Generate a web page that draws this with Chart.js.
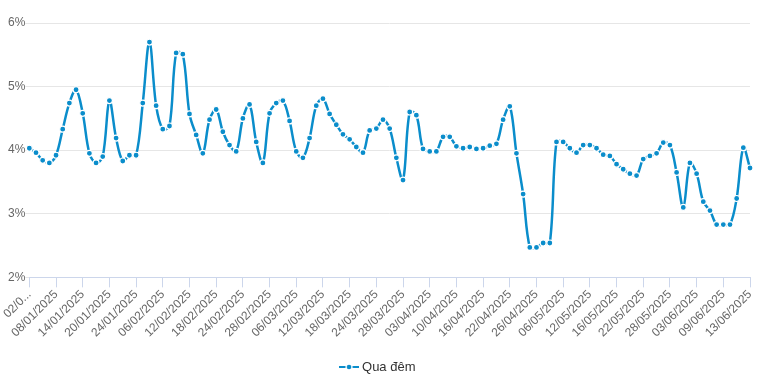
<!DOCTYPE html>
<html>
<head>
<meta charset="utf-8">
<script src="https://cdn.jsdelivr.net/npm/chart.js@4.4.1/dist/chart.umd.min.js"></script>
<style>
  html, body { margin: 0; padding: 0; background: #fff; }
  #wrap { width: 764px; height: 381px; }
</style>
</head>
<body>
<div id="wrap"><canvas id="myChart"></canvas></div>
<script>
(function(){
    'use strict';

    // ngày giao dịch
    const dates = [
      '02/01/2025','03/01/2025','06/01/2025','07/01/2025','08/01/2025','09/01/2025','10/01/2025','13/01/2025','14/01/2025','15/01/2025',
      '16/01/2025','17/01/2025','20/01/2025','21/01/2025','22/01/2025','23/01/2025','24/01/2025','03/02/2025','04/02/2025','05/02/2025',
      '06/02/2025','07/02/2025','10/02/2025','11/02/2025','12/02/2025','13/02/2025','14/02/2025','17/02/2025','18/02/2025','19/02/2025',
      '20/02/2025','21/02/2025','24/02/2025','25/02/2025','26/02/2025','27/02/2025','28/02/2025','03/03/2025','04/03/2025','05/03/2025',
      '06/03/2025','07/03/2025','10/03/2025','11/03/2025','12/03/2025','13/03/2025','14/03/2025','17/03/2025','18/03/2025','19/03/2025',
      '20/03/2025','21/03/2025','24/03/2025','25/03/2025','26/03/2025','27/03/2025','28/03/2025','31/03/2025','01/04/2025','02/04/2025',
      '03/04/2025','04/04/2025','08/04/2025','09/04/2025','10/04/2025','11/04/2025','14/04/2025','15/04/2025','16/04/2025','17/04/2025',
      '18/04/2025','21/04/2025','22/04/2025','23/04/2025','24/04/2025','25/04/2025','26/04/2025','28/04/2025','29/04/2025','05/05/2025',
      '06/05/2025','07/05/2025','08/05/2025','09/05/2025','12/05/2025','13/05/2025','14/05/2025','15/05/2025','16/05/2025','19/05/2025',
      '20/05/2025','21/05/2025','22/05/2025','23/05/2025','26/05/2025','27/05/2025','28/05/2025','29/05/2025','30/05/2025','02/06/2025',
      '03/06/2025','04/06/2025','05/06/2025','06/06/2025','09/06/2025','10/06/2025','11/06/2025','12/06/2025','13/06/2025'
    ];

    // lãi suất qua đêm (%)
    const overnight = [
      4.03, 3.96, 3.84, 3.80, 3.92, 4.33, 4.74, 4.95, 4.58, 3.95,
      3.80, 3.90, 4.78, 4.19, 3.83, 3.92, 3.92, 4.74, 5.70, 4.70,
      4.33, 4.38, 5.53, 5.51, 4.57, 4.24, 3.95, 4.48, 4.64, 4.29,
      4.08, 3.98, 4.50, 4.72, 4.13, 3.80, 4.58, 4.74, 4.78, 4.46,
      3.98, 3.88, 4.19, 4.70, 4.81, 4.57, 4.40, 4.25, 4.17, 4.05,
      3.96, 4.31, 4.34, 4.48, 4.34, 3.88, 3.53, 4.60, 4.55, 4.02,
      3.98, 3.98, 4.21, 4.21, 4.06, 4.03, 4.05, 4.02, 4.03, 4.07,
      4.10, 4.48, 4.69, 3.95, 3.31, 2.47, 2.47, 2.54, 2.54, 4.13,
      4.13, 4.03, 3.96, 4.08, 4.08, 4.03, 3.93, 3.91, 3.78, 3.70,
      3.63, 3.60, 3.86, 3.91, 3.95, 4.12, 4.08, 3.65, 3.10, 3.80,
      3.63, 3.19, 3.05, 2.83, 2.83, 2.83, 3.24, 4.04, 3.72
    ];

    const yTicks = [2, 3, 4, 5, 6];
    const labelEvery = 4;
    const blue = '#0a8dcb';
    const fontFam = "'Liberation Sans', Arial, sans-serif";

    // ký hiệu chú thích: đường - chấm - đường
    const sym = document.createElement('canvas');
    sym.width = 20; sym.height = 8;
    const s = sym.getContext('2d');
    s.strokeStyle = blue; s.lineWidth = 2;
    s.beginPath(); s.moveTo(0, 4); s.lineTo(20, 4); s.stroke();
    s.beginPath(); s.arc(10, 4, 3.6, 0, Math.PI * 2); s.fillStyle = '#fff'; s.fill();
    s.beginPath(); s.arc(10, 4, 2.3, 0, Math.PI * 2); s.fillStyle = blue; s.fill();

    const ctx = document.getElementById('myChart');

    new Chart(ctx, {
      type: 'line',
      data: {
        labels: dates,
        datasets: [{
          label: 'Qua đêm',
          data: overnight,
          borderColor: blue,
          backgroundColor: blue,
          borderWidth: 2.5,
          tension: 0.35,
          pointRadius: 3,
          pointHoverRadius: 3,
          pointBackgroundColor: blue,
          pointBorderColor: '#fff',
          pointBorderWidth: 1.2
        }]
      },
      options: {
        responsive: true,
        maintainAspectRatio: false,
        animation: false,
        layout: { padding: { top: 23, right: 14, left: 8, bottom: 0 } },
        plugins: {
          tooltip: { enabled: false },
          legend: {
            position: 'bottom',
            maxHeight: 41,
            title: {
              display: true,
              text: ' ',
              font: { size: 1 },
              padding: { top: 0, bottom: 19.3 }
            },
            labels: {
              color: '#333',
              padding: 0,
              font: { family: fontFam, size: 13 },
              usePointStyle: true,
              generateLabels: function(chart) {
                return [{
                  text: chart.data.datasets[0].label,
                  pointStyle: sym,
                  fontColor: '#333',
                  hidden: false,
                  datasetIndex: 0,
                  lineWidth: 0
                }];
              }
            }
          }
        },
        scales: {
          x: {
            offset: false,
            border: { display: true, color: '#ccd6eb', width: 1 },
            grid: {
              display: true,
              drawOnChartArea: false,
              drawTicks: true,
              tickLength: 10,
              color: '#ccd6eb'
            },
            ticks: {
              autoSkip: false,
              minRotation: 45,
              maxRotation: 45,
              color: '#666',
              padding: 0,
              font: { family: fontFam, size: 12 },
              callback: function(v, i) {
                if (i % labelEvery !== 0) return null;
                const lbl = this.getLabelForValue(v);
                return i === 0 ? lbl.slice(0, 4) + '...' : lbl;
              }
            }
          },
          y: {
            min: yTicks[0],
            max: yTicks[yTicks.length - 1],
            border: { display: false },
            grid: { color: '#e6e6e6', tickLength: 4, lineWidth: 1 },
            afterBuildTicks: function(axis) {
              axis.ticks = yTicks.map(function(v) { return { value: v }; });
            },
            ticks: {
              color: '#666',
              padding: 0,
              font: { family: fontFam, size: 12 },
              callback: function(v) { return v + '%'; }
            }
          }
        }
      }
    });

})();
</script>
</body>
</html>
